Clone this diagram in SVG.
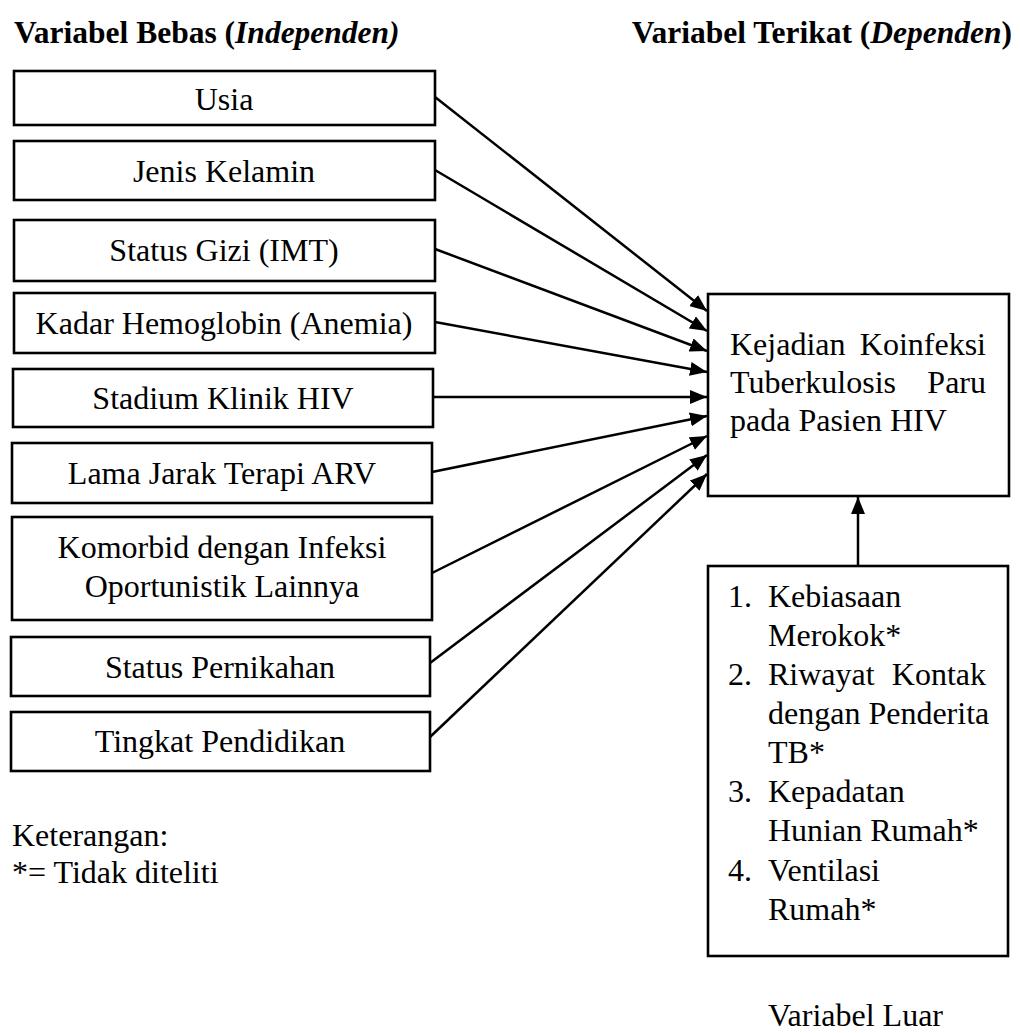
<svg xmlns="http://www.w3.org/2000/svg" width="1020" height="1033" viewBox="0 0 1020 1033">
<defs>
<marker id="ah" markerUnits="userSpaceOnUse" markerWidth="18" markerHeight="14" refX="17" refY="7" orient="auto">
<path d="M0,0 L17,7 L0,14 z" fill="#000"/>
</marker>
<style>
.box{fill:#fff;stroke:#000;stroke-width:2.6}
.t{font-family:"Liberation Serif","Times New Roman",serif;font-size:32px;fill:#000}
.c{text-anchor:middle}
.e{text-anchor:end}
.h{font-family:"Liberation Serif","Times New Roman",serif;font-size:31.5px;font-weight:bold;fill:#000}
.ln{stroke:#000;stroke-width:2.5;fill:none;marker-end:url(#ah)}
</style>
</defs>
<rect width="1020" height="1033" fill="#fff"/>
<g id="titles">
<text class="h" x="14" y="43">Variabel Bebas (<tspan font-style="italic">Independen)</tspan></text>
<text class="h" x="1012" y="43" text-anchor="end">Variabel Terikat (<tspan font-style="italic">Dependen</tspan>)</text>
</g>
<g id="connectors">
<line class="ln" x1="435" y1="97" x2="707" y2="311"/>
<line class="ln" x1="435" y1="170" x2="707" y2="331"/>
<line class="ln" x1="435" y1="249" x2="707" y2="351"/>
<line class="ln" x1="435" y1="322" x2="707" y2="372"/>
<line class="ln" x1="433" y1="397" x2="707" y2="397"/>
<line class="ln" x1="432" y1="472" x2="707" y2="416"/>
<line class="ln" x1="432" y1="573" x2="707" y2="436"/>
<line class="ln" x1="430" y1="663" x2="707" y2="455"/>
<line class="ln" x1="430" y1="737" x2="707" y2="474"/>
<line class="ln" x1="858" y1="566" x2="858" y2="497"/>
</g>
<g id="n-usia"><rect class="box" x="14" y="71" width="421" height="54"/><text class="t c" x="224" y="110">Usia</text></g>
<g id="n-jenis"><rect class="box" x="14" y="141" width="421" height="59"/><text class="t c" x="224" y="182">Jenis Kelamin</text></g>
<g id="n-gizi"><rect class="box" x="14" y="220" width="421" height="61"/><text class="t c" x="224" y="261">Status Gizi (IMT)</text></g>
<g id="n-hb"><rect class="box" x="14" y="293" width="421" height="60"/><text class="t c" x="224" y="334">Kadar Hemoglobin (Anemia)</text></g>
<g id="n-stadium"><rect class="box" x="13" y="369" width="420" height="58"/><text class="t c" x="223" y="409">Stadium Klinik HIV</text></g>
<g id="n-arv"><rect class="box" x="12" y="443" width="420" height="60"/><text class="t c" x="222" y="484">Lama Jarak Terapi ARV</text></g>
<g id="n-komorbid"><rect class="box" x="12" y="517" width="420" height="103"/><text class="t c" x="222" y="558">Komorbid dengan Infeksi</text><text class="t c" x="222" y="597">Oportunistik Lainnya</text></g>
<g id="n-nikah"><rect class="box" x="11" y="637" width="419" height="59"/><text class="t c" x="220" y="678">Status Pernikahan</text></g>
<g id="n-didik"><rect class="box" x="11" y="712" width="419" height="59"/><text class="t c" x="220" y="752">Tingkat Pendidikan</text></g>
<g id="n-target"><rect class="box" x="708" y="294" width="301" height="202"/>
<text class="t" x="730" y="355">Kejadian</text><text class="t e" x="986" y="355">Koinfeksi</text>
<text class="t" x="730" y="393">Tuberkulosis</text><text class="t e" x="986" y="393">Paru</text>
<text class="t" x="730" y="431">pada Pasien HIV</text>
</g>
<g id="n-luar"><rect class="box" x="708" y="566" width="300" height="390"/>
<text class="t" x="728" y="607">1.</text><text class="t" x="768" y="607">Kebiasaan</text>
<text class="t" x="768" y="646">Merokok*</text>
<text class="t" x="728" y="685">2.</text><text class="t" x="768" y="685">Riwayat</text><text class="t e" x="986" y="685">Kontak</text>
<text class="t" x="768" y="724">dengan Penderita</text>
<text class="t" x="768" y="763">TB*</text>
<text class="t" x="728" y="802">3.</text><text class="t" x="768" y="802">Kepadatan</text>
<text class="t" x="768" y="841">Hunian Rumah*</text>
<text class="t" x="728" y="881">4.</text><text class="t" x="768" y="881">Ventilasi</text>
<text class="t" x="768" y="920">Rumah*</text>
</g>
<g id="notes">
<text class="t" x="12" y="846">Keterangan:</text>
<text class="t" x="12" y="883">*= Tidak diteliti</text>
<text class="t" x="768" y="1026">Variabel Luar</text>
</g>
</svg>
